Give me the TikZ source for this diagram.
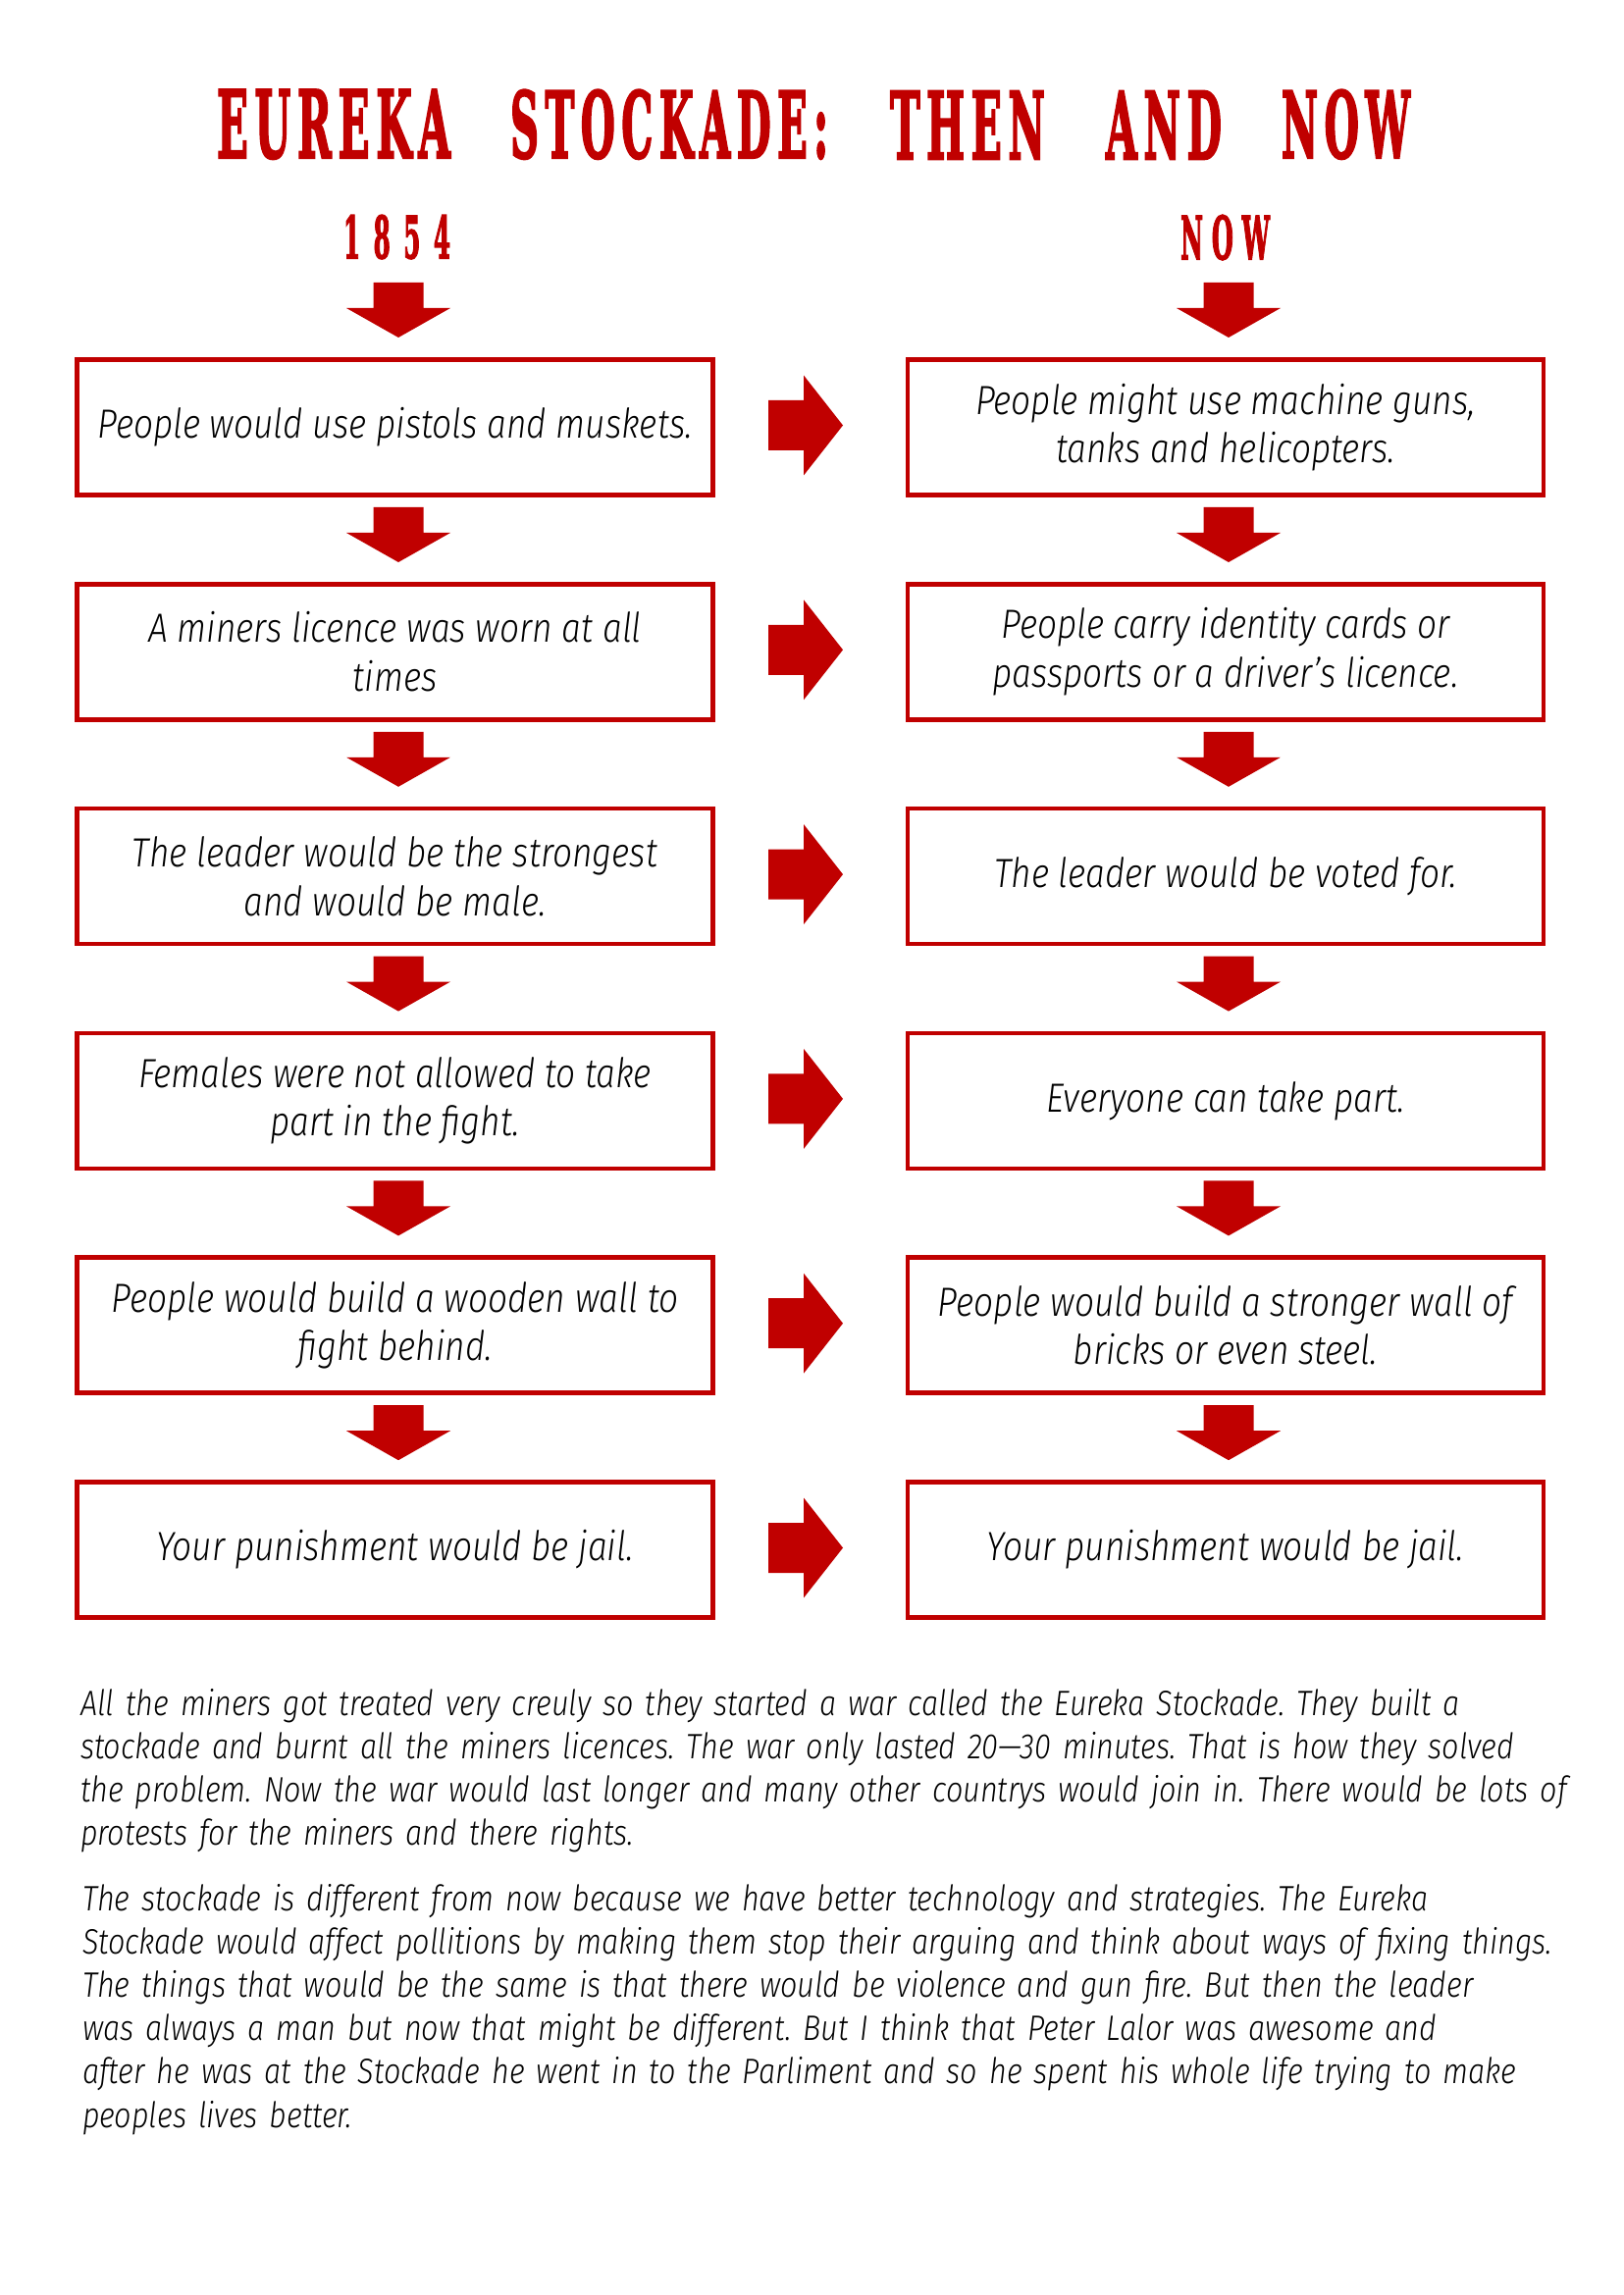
\documentclass[tikz,border=0pt]{standalone}
\usepackage{fontspec}
\usetikzlibrary{calc}
\newfontfamily\handfont{Fira Sans Light Italic}[FakeStretch=0.85]
\newfontfamily\woodfont{DejaVu Serif Bold}[FakeBold=3]
\definecolor{ered}{HTML}{C00000}
\newlength\px
\setlength\px{0.127mm}
\newcommand\kk{\kern0.16em}
\newcommand\kd{\kern0.55em}
\begin{document}
\begin{tikzpicture}[x=0.127mm, y=-0.127mm,
  box/.style={draw=ered, line width=4.7\px, minimum width=648\px, minimum height=138\px,
    inner sep=0pt, outer sep=0pt, align=center, text=black,
    font=\handfont\fontsize{15pt}{17.9pt}\selectfont\frenchspacing},
  para/.style={anchor=base west, inner sep=0pt, outer sep=0pt, text width=1565\px, align=left,
    font=\handfont\fontsize{13pt}{15.97pt}\selectfont\frenchspacing},
  wood/.style={anchor=south west, inner sep=0pt, outer sep=0pt, text=ered},
  head/.style={anchor=south, inner sep=0pt, outer sep=0pt, text=ered},
  downarr/.pic={\fill[ered] (-25.5,0) -- (25.5,0) -- (25.5,26) -- (53,26) -- (0,56) -- (-53,26) -- (-25.5,26) -- cycle;},
  rightarr/.pic={\fill[ered] (0,-25.5) -- (36,-25.5) -- (36,-51) -- (76,0) -- (36,51) -- (36,25.5) -- (0,25.5) -- cycle;}
]
\fill[white] (0,0) rectangle (1654,2339);
\useasboundingbox (0,0) rectangle (1654,2339);

% title
\node[wood] (t1) at (221,162) {\resizebox{238\px}{69\px}{\woodfont E\kk U\kk R\kk E\kk K\kk A}};
\node[wood] (t2) at (520,162) {\resizebox{324\px}{69\px}{\woodfont S\kk T\kk O\kk C\kk K\kk A\kk D\kk E\kk :}};
\node[wood] (t3) at (907,162) {\resizebox{158\px}{69\px}{\woodfont T\kk H\kk E\kk N}};
\node[wood] (t4) at (1127,162) {\resizebox{118\px}{69\px}{\woodfont A\kk N\kk D}};
\node[wood] (t5) at (1306,162) {\resizebox{131\px}{69\px}{\woodfont N\kk O\kk W}};

% headings
\node[head] (h1) at (404.5,264) {\resizebox{109\px}{44\px}{\woodfont 1\kd 8\kd 5\kd 4}};
\node[head] (h2) at (1248.5,265) {\resizebox{91\px}{45\px}{\woodfont N\kern0.35em O\kern0.35em W}};

% boxes
\node[box] (L1) at (402.5,435.5) {People would use pistols and muskets.};
\node[box] (R1) at (1249,435.5) {People might use machine guns,\\tanks and helicopters.};
\node[box] (L2) at (402.5,664.3) {A miners licence was worn at all\\times};
\node[box] (R2) at (1249,664.3) {People carry identity cards or\\passports or a driver’s licence.};
\node[box] (L3) at (402.5,893.1) {The leader would be the strongest\\and would be male.};
\node[box] (R3) at (1249,893.1) {The leader would be voted for.};
\node[box] (L4) at (402.5,1121.9) {Females were not allowed to take\\part in the fight.};
\node[box] (R4) at (1249,1121.9) {Everyone can take part.};
\node[box] (L5) at (402.5,1350.7) {People would build a wooden wall to\\fight behind.};
\node[box] (R5) at (1249,1350.7) {People would build a stronger wall of\\bricks or even steel.};
\node[box] (L6) at (402.5,1579.5) {Your punishment would be jail.};
\node[box] (R6) at (1249,1579.5) {Your punishment would be jail.};

% top arrows
\pic at ($(L1.north)+(3.5,-78.5)$) {downarr};
\pic at ($(R1.north)+(3,-78.5)$) {downarr};

% down arrows between rows
\foreach \a/\b in {1/2,2/3,3/4,4/5,5/6}{
  \pic at ($(L\a.south)+(3.5,12.5)$) {downarr};
  \pic at ($(R\a.south)+(3,12.5)$) {downarr};
}
% right arrows
\foreach \a in {1,...,6}{
  \pic at ($(L\a.east)+(56.5,-2)$) {rightarr};
}

% paragraphs
\node[para] (p1) at (82,1748) {All the miners got treated very creuly so they started a war called the Eureka Stockade. They built a\\
stockade and burnt all the miners licences. The war only lasted 20—30 minutes. That is how they solved\\
the problem. Now the war would last longer and many other countrys would join in. There would be lots of\\
protests for the miners and there rights.};
\node[para] (p2) at (84,1947) {The stockade is different from now because we have better technology and strategies. The Eureka\\
Stockade would affect pollitions by making them stop their arguing and think about ways of fixing things.\\
The things that would be the same is that there would be violence and gun fire. But then the leader\\
was always a man but now that might be different. But I think that Peter Lalor was awesome and\\
after he was at the Stockade he went in to the Parliment and so he spent his whole life trying to make\\
peoples lives better.};
\end{tikzpicture}
\end{document}
